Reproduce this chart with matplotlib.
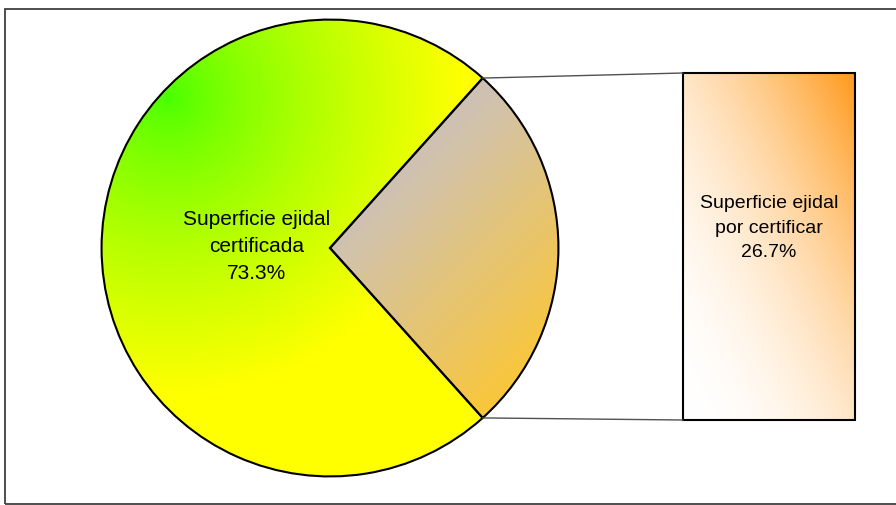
import numpy as np
import matplotlib
matplotlib.use("Agg")
import matplotlib.pyplot as plt
from matplotlib.patches import Rectangle, ConnectionPatch
from matplotlib import font_manager

labels = ["Superficie ejidal\ncertificada", "Superficie ejidal\npor certificar"]
values = [73.3, 26.7]

# narrow Arial-like face if present, else plain Liberation Sans a bit smaller
names = {f.name for f in font_manager.fontManager.ttflist}
narrow = "Liberation Sans Narrow" in names
font = "Liberation Sans Narrow" if narrow else "Liberation Sans"
fs_left, fs_right = (18, 17) if narrow else (15, 14)

W, H = 896, 506
fig = plt.figure(figsize=(W / 100, H / 100), dpi=100)

# outer frame
fig.patches.append(Rectangle((5 / W, 1 - 505 / H), 1.0, (505 - 10) / H,
                             transform=fig.transFigure, fill=False,
                             edgecolor="#404040", linewidth=1.3))

# pie axes, centre (330, 249) px, radius 233 px
cx, cy, r = 330, 249, 233
axp = fig.add_axes([(cx - r) / W, 1 - (cy + r) / H, 2 * r / W, 2 * r / H])
wedges, _ = axp.pie(values, startangle=360 * values[1] / 200, counterclock=True,
                    radius=1, wedgeprops=dict(edgecolor="black", linewidth=1.5))
axp.set_xlim(-1.02, 1.02)
axp.set_ylim(-1.02, 1.02)
axp.set_aspect("equal")
axp.axis("off")

n = 400
xs = np.linspace(-1.02, 1.02, n)
X, Y = np.meshgrid(xs, xs[::-1])

# main slice: radial green -> yellow from upper left
d = np.hypot(X + 0.71, Y - 0.66)
t = np.clip(d / 1.3, 0, 1) ** 0.75
img = np.dstack([0.27 + 0.73 * t, np.ones_like(t), np.zeros_like(t)])
im = axp.imshow(img, extent=(-1.02, 1.02, -1.02, 1.02), zorder=0.5)
im.set_clip_path(wedges[0])

# small slice: grey-beige -> orange diagonal
t2 = np.clip((X - Y) / 1.5, 0, 1)
c0 = np.array([0.81, 0.76, 0.70])
c1 = np.array([0.99, 0.78, 0.20])
img2 = c0 + (c1 - c0) * t2[..., None]
im2 = axp.imshow(img2, extent=(-1.02, 1.02, -1.02, 1.02), zorder=0.5)
im2.set_clip_path(wedges[1])
for w in wedges:
    w.set_facecolor("none")
    w.set_zorder(1)

axp.text(-0.32, 0.01, f"{labels[0]}\n{values[0]:.1f}%", ha="center", va="center",
         fontsize=fs_left, family=font, linespacing=1.55, zorder=3)

# bar of the small slice
bl, br, bt, bb = 683, 855, 74, 421
axb = fig.add_axes([bl / W, 1 - bb / H, (br - bl) / W, (bb - bt) / H])
bars = axb.bar([0], [values[1]], width=1, color="none", edgecolor="black",
               linewidth=1.5, zorder=2)
axb.set_xlim(-0.5, 0.5)
axb.set_ylim(0, values[1])
axb.axis("off")
gx = np.linspace(0, 1, 200)
GX, GY = np.meshgrid(gx, gx[::-1])
u = np.clip((GX + GY) / 2, 0, 1) ** 2
orange = np.array([1.0, 0.6, 0.1])
img3 = 1 + (orange - 1) * u[..., None]
im3 = axb.imshow(img3, extent=(-0.5, 0.5, 0, values[1]), aspect="auto", zorder=1)
im3.set_clip_path(bars[0])
for b in bars:
    b.set_clip_on(False)
axb.text(0, values[1] * 0.556, f"{labels[1]}\n{values[1]:.1f}%", ha="center",
         va="center", fontsize=fs_right, family=font, linespacing=1.6, zorder=3)

# connector lines from slice edge to the bar corners
half = np.deg2rad(360 * values[1] / 200)
for sgn, yb in [(1, values[1]), (-1, 0)]:
    con = ConnectionPatch((np.cos(half), sgn * np.sin(half)), (-0.5, yb),
                          coordsA="data", coordsB="data", axesA=axp, axesB=axb,
                          color="#505050", linewidth=1)
    fig.add_artist(con)

fig.savefig("out.png", dpi=100)
